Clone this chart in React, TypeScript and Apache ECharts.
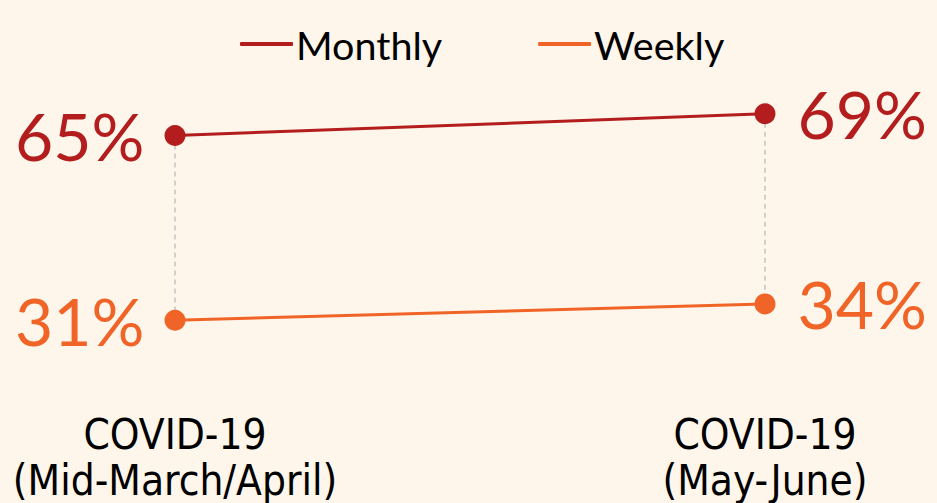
import React, { useEffect, useRef } from "react";
import * as echarts from "echarts";

const categories = ["COVID-19\n(Mid-March/April)", "COVID-19\n(May-June)"];
const monthly = [65, 69];
const weekly = [31, 34];
const seriesNames = ["Monthly", "Weekly"];
const colors = ["#B31D1E", "#F06427"];

export default function App() {
  const ref = useRef<HTMLDivElement>(null);
  useEffect(() => {
    document.body.style.margin = "0";
    document.body.style.background = "#FEF6EA";
    const chart = echarts.init(ref.current!, null, { renderer: "svg" });
    const labelFont = "Lato, 'Noto Sans', sans-serif";
    const mkData = (arr: number[]) =>
      arr.map((v, i) =>
        i === arr.length - 1 ? { value: v, label: { position: "right", distance: 22 } } : v
      );
    chart.setOption({
      animation: false,
      backgroundColor: "#FEF6EA",
      legend: {
        top: 19,
        left: 235,
        itemWidth: 53,
        itemHeight: 4,
        itemGap: 96,
        icon: "roundRect",
        textStyle: { fontSize: 39.5, color: "#000", fontFamily: labelFont, padding: [0, 0, 0, -2] },
        data: seriesNames,
      },
      grid: { left: 175, right: 172, top: 54, bottom: 119 },
      xAxis: {
        type: "category",
        data: categories,
        boundaryGap: false,
        axisLine: { show: false },
        axisTick: { show: false },
        splitLine: { show: false },
        axisLabel: {
          margin: 31,
          fontSize: 42,
          lineHeight: 46,
          color: "#000",
          fontFamily: "'DejaVu Sans Condensed', 'Liberation Sans Narrow', sans-serif",
          align: "center",
        },
      },
      yAxis: { type: "value", min: 20, max: 80, show: false },
      series: [
        {
          type: "custom",
          silent: true,
          z: 1,
          data: categories.map((_, i) => [i, monthly[i], weekly[i]]),
          renderItem: (params: any, api: any) => {
            const p1 = api.coord([api.value(0), api.value(1)]);
            const p2 = api.coord([api.value(0), api.value(2)]);
            return {
              type: "line",
              shape: { x1: p1[0], y1: p1[1], x2: p2[0], y2: p2[1] },
              style: { stroke: "#C4C4C4", lineWidth: 1.5, lineDash: [5, 4] },
            };
          },
        },
        {
          name: seriesNames[0],
          type: "line",
          z: 3,
          data: mkData(monthly),
          color: colors[0],
          symbol: "circle",
          symbolSize: 21,
          lineStyle: { width: 3 },
          label: {
            show: true,
            fontSize: 66,
            fontFamily: labelFont,
            color: colors[0],
            distance: 20,
            position: "left",
            formatter: (p: any) => p.value + "%",
          },
        },
        {
          name: seriesNames[1],
          type: "line",
          z: 3,
          data: mkData(weekly),
          color: colors[1],
          symbol: "circle",
          symbolSize: 21,
          lineStyle: { width: 3 },
          label: {
            show: true,
            fontSize: 66,
            fontFamily: labelFont,
            color: colors[1],
            distance: 20,
            position: "left",
            formatter: (p: any) => p.value + "%",
          },
        },
      ],
    });
    return () => chart.dispose();
  }, []);
  return (
    <div
      ref={ref}
      style={{ width: 937, height: 503, position: "absolute", left: 0, top: 0 }}
    />
  );
}
